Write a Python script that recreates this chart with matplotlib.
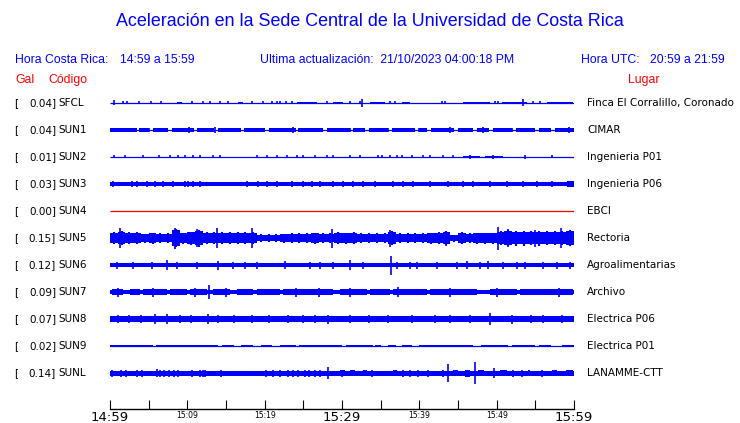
import matplotlib
matplotlib.use('Agg')
import matplotlib.pyplot as plt
import numpy as np

W, H = 740, 423
BLUE = '#0000ff'
RED = '#ff0000'

# stations, top to bottom
codes = ['SFCL', 'SUN1', 'SUN2', 'SUN3', 'SUN4', 'SUN5', 'SUN6', 'SUN7', 'SUN8', 'SUN9', 'SUNL']
gal = [0.04, 0.04, 0.01, 0.03, 0.00, 0.15, 0.12, 0.09, 0.07, 0.02, 0.14]
places = ['Finca El Corralillo, Coronado', 'CIMAR', 'Ingenieria P01', 'Ingenieria P06', 'EBCI',
          'Rectoria', 'Agroalimentarias', 'Archivo', 'Electrica P06', 'Electrica P01', 'LANAMME-CTT']

# half amplitude of the quiet band of each trace (px)
base_half = [0.5, 0.5, 0.5, 2.0, 0.5, 3.5, 2.3, 2.1, 2.8, 0.5, 2.5]

# bursts: (start min, end min, half amplitude px) ; ticks: (min, half amplitude px)
sfcl_bursts = [(8.7, 9.3, 1.0), (16.6, 17.2, 1.0), (24.2, 26.8, 1.0), (28.8, 30.1, 1.0), (33.6, 35.6, 1.0),
               (37.8, 38.8, 1.0), (45.6, 49.1, 1.1), (50.7, 53.9, 1.1), (56.5, 59.9, 1.0)]
sfcl_ticks = [(0.5, 2.5), (1.7, 1.5), (2.2, 1.5), (3.75, 1.5), (5.3, 1.5), (6.6, 1.5), (10.6, 1.5), (12.0, 1.5),
              (12.9, 1.5), (14.2, 1.5), (15.3, 1.5), (18.4, 1.5), (19.8, 1.5), (20.9, 1.5), (21.6, 1.5),
              (22.0, 1.5), (22.8, 1.5), (23.5, 1.5), (28.1, 1.5), (31.0, 1.5), (32.3, 1.5), (32.6, 4.0),
              (36.2, 1.5), (36.9, 1.5), (42.9, 1.5), (43.3, 1.5), (49.8, 1.5), (50.2, 1.5), (53.4, 3.5),
              (54.7, 1.5), (55.6, 1.5)]

sun1_bursts = [(0.0, 3.5, 1.6), (3.8, 5.0, 1.6), (5.5, 7.5, 1.6), (8.0, 10.8, 1.6), (11.2, 13.5, 1.6),
               (14.0, 17.0, 1.6), (17.3, 20.0, 1.6), (20.5, 24.0, 1.6), (24.3, 27.5, 1.6), (28.0, 31.0, 1.6),
               (31.4, 33.0, 1.6), (33.5, 36.0, 1.6), (36.5, 39.5, 1.6), (40.0, 41.0, 1.6), (41.5, 44.5, 1.6),
               (45.0, 47.0, 1.6), (47.5, 49.0, 1.6), (49.5, 52.0, 1.6), (52.5, 55.0, 1.6), (55.5, 57.0, 1.6),
               (57.5, 60.0, 1.6)]
sun1_ticks = [(1.0, 2.2), (5.0, 2.2), (10.2, 2.8), (13.6, 2.8), (15.0, 2.2), (19.0, 2.2), (23.7, 2.8),
              (26.0, 2.2), (31.0, 2.2), (36.0, 2.2), (40.0, 2.2), (44.0, 2.8), (48.2, 2.8), (52.0, 2.2),
              (56.0, 2.2), (59.4, 2.8)]

sun2_bursts = [(45.6, 47.8, 1.0), (48.5, 50.8, 1.0)]
sun2_ticks = [(0.5, 1.5), (1.9, 1.5), (4.3, 1.5), (6.3, 1.5), (7.8, 1.5), (8.8, 1.5), (9.7, 1.5), (10.7, 1.5),
              (11.6, 1.5), (13.3, 1.5), (14.2, 1.5), (19.0, 1.5), (20.3, 1.5), (21.6, 1.5), (22.9, 1.5),
              (24.2, 1.5), (25.0, 1.5), (26.5, 1.5), (28.1, 1.5), (28.8, 1.5), (31.0, 1.5), (32.3, 1.5),
              (34.7, 1.5), (35.2, 1.5), (36.2, 1.5), (37.1, 1.5), (37.8, 1.5), (39.1, 1.5), (40.5, 1.5),
              (41.4, 1.5), (43.1, 1.5), (44.4, 1.5), (46.5, 1.8), (49.5, 1.8), (53.7, 1.8), (57.2, 1.5)]

sun3_bursts = [(59.1, 60.0, 2.8)]
sun3_ticks = [(0.4, 3.0), (2.8, 3.0), (3.5, 3.0), (4.8, 3.0), (5.8, 3.0), (6.9, 3.0), (8.1, 3.0), (9.7, 3.0),
              (10.1, 3.0), (10.7, 3.0), (11.6, 3.0), (17.7, 3.0), (19.1, 3.3), (20.3, 3.0), (21.6, 3.0),
              (23.5, 3.0), (25.0, 3.0), (26.1, 3.0), (27.2, 3.0), (28.8, 3.0), (30.1, 3.0), (31.4, 3.0),
              (32.7, 3.0), (34.3, 3.0), (36.6, 3.0), (37.9, 3.0), (39.2, 3.0), (41.4, 3.3), (43.7, 3.0),
              (45.6, 3.0), (46.9, 3.0), (49.1, 3.0), (51.3, 3.0), (53.4, 3.0), (55.2, 3.0), (57.2, 3.0)]

# SUN5: upper envelope for each minute (px) and its big peaks
sun5_env = [6, 7, 6, 6, 4.5, 5.5, 5, 5, 9, 5.5, 6.5, 8.5, 6, 6, 6, 6, 6, 6, 6, 4, 4, 4, 4.5, 5, 5, 5, 5.5, 5, 5, 6,
            5.5, 6, 5, 5, 5, 5, 7, 5, 5, 5, 5, 5.5, 6, 7, 3.5, 6, 5, 5.5, 5.5, 5.5, 7, 8, 7.5, 7.5, 7, 7.5, 7, 7, 7, 8]
sun5_ticks = [(1.3, 10.0), (8.4, 10.5), (11.2, 9.0), (13.9, 10.0), (18.3, 10.0), (28.7, 9.5), (36.2, 8.5),
              (43.5, 7.5), (50.2, 11.5), (51.5, 9.0), (55.0, 8.5), (58.3, 10.0)]

sun6_bursts = []
sun6_ticks = [(0.9, 3.5), (3.0, 3.5), (5.4, 3.5), (7.4, 5.0), (8.7, 3.5), (11.3, 3.5), (14.0, 4.5), (15.9, 3.5),
              (17.5, 3.5), (19.0, 3.5), (22.6, 4.0), (25.9, 3.5), (27.2, 3.5), (28.8, 3.5), (31.0, 5.0),
              (32.7, 3.5), (36.3, 9.5), (37.1, 3.5), (38.8, 3.5), (39.7, 3.5), (42.3, 3.5), (44.9, 3.5),
              (46.2, 4.0), (47.8, 3.5), (48.9, 4.0), (50.8, 3.5), (52.6, 3.5), (53.7, 3.5), (56.0, 3.5),
              (57.8, 3.5), (59.5, 3.5)]

sun7_bursts = [(0.3, 1.7, 3.3), (2.6, 3.9, 3.3), (4.3, 7.4, 3.3), (7.8, 10.0, 3.3), (10.3, 12.5, 3.3),
               (13.3, 15.5, 3.3), (16.4, 18.5, 3.3), (19.0, 22.0, 3.3), (22.4, 28.8, 3.3), (29.7, 33.2, 3.3),
               (33.6, 36.2, 3.3), (36.6, 41.0, 3.3), (41.4, 47.5, 3.3), (49.1, 52.6, 3.3), (53.0, 59.9, 3.3)]
sun7_ticks = [(1.0, 4.5), (5.5, 4.5), (11.0, 4.5), (12.8, 7.0), (15.0, 4.5), (24.0, 4.5), (27.0, 4.5),
              (31.0, 4.5), (37.2, 5.0), (44.0, 4.5), (50.0, 4.5), (58.0, 4.5)]

sun8_bursts = [(0.0, 12.0, 3.4), (19.0, 30.0, 3.3), (38.0, 48.0, 3.3), (55.0, 60.0, 3.3)]
sun8_ticks = [(1.0, 4.0), (2.5, 4.0), (4.0, 4.0), (5.8, 5.0), (7.4, 5.0), (9.0, 4.0), (10.5, 4.0), (12.7, 5.0),
              (14.0, 4.0), (16.0, 4.0), (18.4, 4.0), (20.5, 4.0), (23.0, 4.0), (25.0, 4.0), (26.5, 4.0),
              (28.2, 4.5), (31.0, 4.0), (33.5, 4.0), (36.0, 4.0), (39.0, 4.0), (42.0, 4.0), (44.0, 4.0),
              (46.5, 4.0), (49.1, 6.0), (52.0, 4.5), (54.5, 4.0), (56.0, 4.0), (58.5, 4.0)]

sun9_bursts = [(0.0, 5.5, 1.4), (6.0, 14.0, 1.4), (14.5, 16.0, 1.4), (17.0, 18.5, 1.4), (19.5, 21.0, 1.4),
               (22.0, 24.0, 1.4), (24.5, 30.0, 1.4), (30.5, 34.0, 1.4), (34.3, 35.0, 1.4), (36.0, 37.0, 1.4),
               (37.8, 39.0, 1.4), (40.0, 47.0, 1.4), (48.0, 51.5, 1.4), (52.0, 55.0, 1.4), (55.5, 57.0, 1.4),
               (58.5, 60.0, 1.4)]
sun9_ticks = []

sunl_bursts = [(29.7, 30.4, 3.3), (31.0, 31.7, 3.3), (32.7, 33.2, 3.3), (36.6, 37.1, 3.3), (44.3, 45.0, 3.3),
               (45.9, 46.5, 3.5), (47.6, 48.3, 3.3), (50.4, 51.3, 3.3), (54.0, 54.3, 3.3), (57.2, 57.8, 3.3),
               (59.0, 59.9, 3.3)]
sunl_ticks = [(0.3, 3.5), (1.4, 3.5), (2.1, 3.5), (3.5, 3.5), (4.1, 3.5), (6.1, 4.0), (6.5, 3.5), (7.0, 3.5),
              (7.6, 3.5), (8.3, 3.5), (8.8, 3.5), (10.6, 3.5), (11.6, 3.5), (12.0, 3.5), (12.3, 3.5), (14.4, 3.5),
              (20.2, 3.5), (21.1, 3.5), (22.0, 3.5), (23.0, 3.5), (23.7, 3.5), (24.3, 3.5), (25.2, 3.5),
              (25.7, 3.5), (26.5, 3.5), (27.2, 3.5), (28.2, 6.0), (30.0, 3.5), (33.9, 3.5), (37.9, 3.5),
              (38.8, 3.5), (39.8, 3.5), (41.1, 3.5), (43.1, 3.5), (43.7, 9.0), (47.2, 11.0), (49.7, 5.0),
              (52.1, 3.5), (53.3, 3.5), (55.9, 3.5)]

bursts = [sfcl_bursts, sun1_bursts, sun2_bursts, sun3_bursts, [], [], sun6_bursts, sun7_bursts,
          sun8_bursts, sun9_bursts, sunl_bursts]
ticks = [sfcl_ticks, sun1_ticks, sun2_ticks, sun3_ticks, [], sun5_ticks, sun6_ticks, sun7_ticks,
         sun8_ticks, sun9_ticks, sunl_ticks]

minutes = np.arange(0, 61)
tick_pos = np.arange(0, 61, 5)
big_labels = {0: '14:59', 30: '15:29', 60: '15:59'}
small_labels = {10: '15:09', 20: '15:19', 40: '15:39', 50: '15:49'}

fig = plt.figure(figsize=(W / 100, H / 100), dpi=100)


def fx(px):
    return px / W


def fy(py):
    return 1 - py / H


TOP, BOT = 88, 409
ax = fig.add_axes([fx(110), fy(BOT), fx(574) - fx(110), (BOT - TOP) / H])
ax.set_xlim(0, 60)
ax.set_ylim(BOT, TOP)

FIRST, STEP = 103, 27
for i, code in enumerate(codes):
    c = FIRST + STEP * i
    color = RED if code == 'SUN4' else BLUE
    if code == 'SUN5':
        env = np.array(sun5_env + [sun5_env[-1]])
        ax.fill_between(minutes, c - 0.85 * env, c + 0.85 * env, step='post', color=color, lw=0)
        ax.vlines(minutes[:-1] + 0.5, c - np.array(sun5_env), c + np.array(sun5_env), color=color, lw=1.5)
    elif base_half[i] <= 0.5:
        ax.hlines(c, 0, 60, color=color, lw=0.9)
    else:
        ax.fill_between([0, 60], c - base_half[i], c + base_half[i], color=color, lw=0)
    for t0, t1, h in bursts[i]:
        ax.fill_between([t0, t1], c - h, c + h, color=color, lw=0)
    if ticks[i]:
        tt = np.array(ticks[i])
        ax.vlines(tt[:, 0], c - tt[:, 1], c + tt[:, 1], color=color, lw=1.2)

for s in ['top', 'left', 'right']:
    ax.spines[s].set_visible(False)
ax.spines['bottom'].set_linewidth(1.0)
ax.set_yticks([])
ax.set_xticks(tick_pos)
ax.set_xticklabels([big_labels.get(p, small_labels.get(p, '')) for p in tick_pos])
ax.tick_params(axis='x', direction='in', length=6.5, width=0.8, pad=1.5)
for p, lab in zip(tick_pos, ax.get_xticklabels()):
    lab.set_fontsize(9.5 if p in big_labels else 5.5)

# header
hf = 'Liberation Sans'
hs = 8.8
fig.text(0.5, fy(22), 'Aceleración en la Sede Central de la Universidad de Costa Rica',
         ha='center', va='center', color=BLUE, fontsize=12.9, family=hf)
fig.text(fx(15), fy(60), 'Hora Costa Rica:', ha='left', va='center', color=BLUE, fontsize=hs, family=hf)
fig.text(fx(120), fy(60), '14:59 a 15:59', ha='left', va='center', color=BLUE, fontsize=hs, family=hf)
fig.text(fx(260), fy(60), 'Ultima actualización:  21/10/2023 04:00:18 PM', ha='left', va='center',
         color=BLUE, fontsize=hs, family=hf)
fig.text(fx(581), fy(60), 'Hora UTC:', ha='left', va='center', color=BLUE, fontsize=hs, family=hf)
fig.text(fx(725), fy(60), '20:59 a 21:59', ha='right', va='center', color=BLUE, fontsize=hs, family=hf)
fig.text(fx(15), fy(80), 'Gal', ha='left', va='center', color=RED, fontsize=hs, family=hf)
fig.text(fx(48), fy(80), 'Código', ha='left', va='center', color=RED, fontsize=hs, family=hf)
fig.text(fx(628), fy(80), 'Lugar', ha='left', va='center', color=RED, fontsize=hs, family=hf)

# station labels
for i, code in enumerate(codes):
    y = fy(FIRST + STEP * i)
    fig.text(fx(14), y, '[', ha='left', va='center', fontsize=7.5)
    fig.text(fx(56), y, f'{gal[i]:.2f}]', ha='right', va='center', fontsize=7.5)
    fig.text(fx(58), y, code, ha='left', va='center', fontsize=7.5)
    fig.text(fx(587), y, places[i], ha='left', va='center', fontsize=7.5)

fig.savefig('out.png', dpi=100)
